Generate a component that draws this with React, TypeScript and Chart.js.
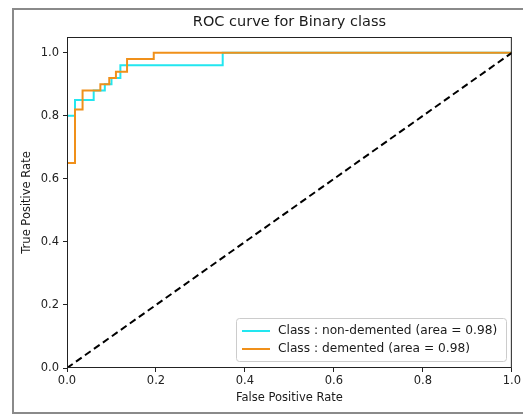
import React, { useEffect, useRef } from "react";
import { Chart, registerables } from "chart.js";
Chart.register(...registerables);

const TITLE = "ROC curve for Binary class";
const X_LABEL = "False Positive Rate";
const Y_LABEL = "True Positive Rate";
const TICKS = [0, 0.2, 0.4, 0.6, 0.8, 1.0];

const LABEL_NON = "Class : non-demented (area = 0.98)";
const FPR_NON = [0, 0, 0.018, 0.018, 0.06, 0.06, 0.085, 0.085, 0.1, 0.1, 0.12, 0.12, 0.35, 0.35, 1.0];
const TPR_NON = [0, 0.8, 0.8, 0.85, 0.85, 0.88, 0.88, 0.9, 0.9, 0.92, 0.92, 0.96, 0.96, 1.0, 1.0];

const LABEL_DEM = "Class : demented (area = 0.98)";
const FPR_DEM = [0, 0, 0.018, 0.018, 0.035, 0.035, 0.075, 0.075, 0.095, 0.095, 0.11, 0.11, 0.135, 0.135, 0.195, 0.195, 1.0];
const TPR_DEM = [0, 0.65, 0.65, 0.82, 0.82, 0.88, 0.88, 0.9, 0.9, 0.92, 0.92, 0.94, 0.94, 0.98, 0.98, 1.0, 1.0];

const DIAG_X = [0, 1];
const DIAG_Y = [0, 1];

const FONT = "'DejaVu Sans', sans-serif";
const CYAN = "#22e6f0";
const ORANGE = "#f0901a";

const toPts = (xs: number[], ys: number[]) => xs.map((x, i) => ({ x, y: ys[i] }));

const decorPlugin = {
  id: "decor",
  beforeDraw(chart: any) {
    const ctx = chart.ctx;
    ctx.save();
    ctx.fillStyle = "#ffffff";
    ctx.fillRect(0, 0, chart.width, chart.height);
    ctx.strokeStyle = "#8a8a8a";
    ctx.lineWidth = 2;
    ctx.strokeRect(13, 9, 520, 404);
    ctx.restore();
  },
  afterDraw(chart: any) {
    const ctx = chart.ctx;
    const a = chart.chartArea;
    ctx.save();
    // frame
    ctx.strokeStyle = "#222";
    ctx.lineWidth = 1;
    ctx.strokeRect(a.left + 0.5, a.top + 0.5, a.right - a.left - 1, a.bottom - a.top - 1);
    // title
    ctx.fillStyle = "#1a1a1a";
    ctx.textAlign = "center";
    ctx.textBaseline = "middle";
    ctx.font = "14.5px " + FONT;
    ctx.fillText(TITLE, (a.left + a.right) / 2, 22);
    ctx.font = "11.5px " + FONT;
    ctx.fillText(X_LABEL, (a.left + a.right) / 2, 398);
    ctx.save();
    ctx.translate(27, (a.top + a.bottom) / 2);
    ctx.rotate(-Math.PI / 2);
    ctx.fillText(Y_LABEL, 0, 0);
    ctx.restore();
    // legend
    const bx = 236, by = 318, bw = 270, bh = 43;
    ctx.fillStyle = "rgba(255,255,255,0.85)";
    ctx.strokeStyle = "#cccccc";
    ctx.lineWidth = 1;
    ctx.beginPath();
    ctx.roundRect(bx + 0.5, by + 0.5, bw, bh, 3);
    ctx.fill();
    ctx.stroke();
    const items = [
      { label: LABEL_NON, color: CYAN, y: by + 13 },
      { label: LABEL_DEM, color: ORANGE, y: by + 31 },
    ];
    ctx.font = "12.2px " + FONT;
    ctx.textAlign = "left";
    for (const it of items) {
      ctx.strokeStyle = it.color;
      ctx.lineWidth = 2;
      ctx.beginPath();
      ctx.moveTo(bx + 6, it.y);
      ctx.lineTo(bx + 34, it.y);
      ctx.stroke();
      ctx.fillStyle = "#1a1a1a";
      ctx.fillText(it.label, bx + 42, it.y);
    }
    ctx.restore();
  },
};

export default function App() {
  const ref = useRef<HTMLCanvasElement | null>(null);
  useEffect(() => {
    if (!ref.current) return;
    const chart = new Chart(ref.current, {
      type: "scatter",
      data: {
        datasets: [
          {
            label: LABEL_NON,
            data: toPts(FPR_NON, TPR_NON),
            showLine: true,
            borderColor: CYAN,
            borderWidth: 2,
            pointRadius: 0,
            fill: false,
            order: 2,
          },
          {
            label: LABEL_DEM,
            data: toPts(FPR_DEM, TPR_DEM),
            showLine: true,
            borderColor: ORANGE,
            borderWidth: 2,
            pointRadius: 0,
            fill: false,
            order: 1,
          },
          {
            label: "diag",
            data: toPts(DIAG_X, DIAG_Y),
            showLine: true,
            borderColor: "#000000",
            borderWidth: 2,
            borderDash: [7, 4],
            pointRadius: 0,
            fill: false,
            order: 0,
          },
        ],
      },
      options: {
        animation: false,
        responsive: false,
        devicePixelRatio: 1,
        layout: { padding: { left: 14, top: 37, right: 11, bottom: 0 } },
        plugins: {
          legend: { display: false },
          title: { display: false },
          tooltip: { enabled: false },
        },
        scales: {
          x: {
            type: "linear",
            min: 0,
            max: 1,
            afterFit: (s: any) => { s.height = 48; },
            afterBuildTicks: (s: any) => { s.ticks = TICKS.map((v) => ({ value: v })); },
            ticks: {
              callback: (v: any) => Number(v).toFixed(1),
              color: "#222",
              font: { family: FONT, size: 11.5 },
              padding: 2,
              maxRotation: 0,
              autoSkip: false,
            },
            grid: { drawOnChartArea: false, drawTicks: true, tickLength: 4, color: "#222" },
            border: { display: false },
          },
          y: {
            type: "linear",
            min: 0,
            max: 1.05,
            afterFit: (s: any) => { s.width = 53; },
            afterBuildTicks: (s: any) => { s.ticks = TICKS.map((v) => ({ value: v })); },
            ticks: {
              callback: (v: any) => Number(v).toFixed(1),
              color: "#222",
              font: { family: FONT, size: 11.5 },
              padding: 4,
              autoSkip: false,
            },
            grid: { drawOnChartArea: false, drawTicks: true, tickLength: 4, color: "#222" },
            border: { display: false },
          },
        },
      },
      plugins: [decorPlugin],
    } as any);
    return () => chart.destroy();
  }, []);
  return (
    <div style={{ position: "fixed", left: 0, top: 0, width: 523, height: 416 }}>
      <canvas ref={ref} width={523} height={416} style={{ display: "block" }} />
    </div>
  );
}
